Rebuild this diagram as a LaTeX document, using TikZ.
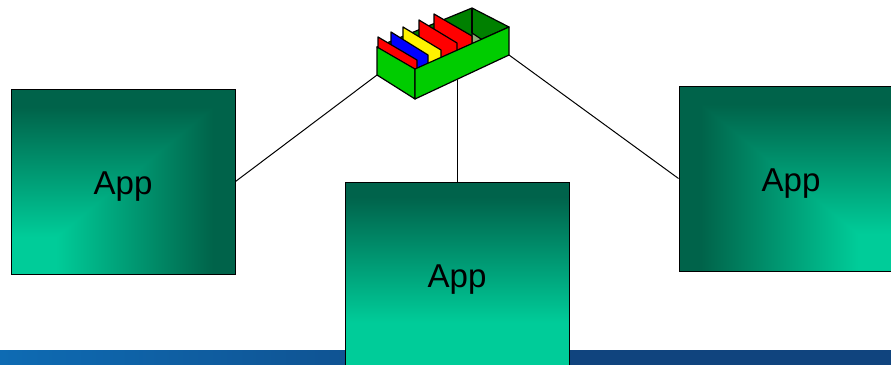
\documentclass[tikz,border=0pt]{standalone}
\usepackage{fontspec}
\setmainfont{Liberation Sans}
\definecolor{appDark}{HTML}{00634B}
\definecolor{appBright}{HTML}{00CC99}
\definecolor{bandLeft}{HTML}{0E6BB3}
\definecolor{bandRight}{HTML}{10447E}
\definecolor{binGreen}{HTML}{00CC00}
\definecolor{binDark}{HTML}{008000}
\definecolor{binFloor}{HTML}{8FAF77}
\pgfdeclarefunctionalshading{appCornerLeft}{\pgfpointorigin}{\pgfpoint{100bp}{100bp}}{}{
  25 sub 50 div exch 25 sub 50 div
  2 copy lt {exch} if pop
  .2 sub .7 div dup 0 lt {pop 0} if dup 1 gt {pop 1} if
  dup .41 mul .8 exch sub exch .31 mul .6 exch sub 0 3 1 roll
}
\pgfdeclarefunctionalshading{appCornerRight}{\pgfpointorigin}{\pgfpoint{100bp}{100bp}}{}{
  25 sub 50 div exch 75 exch sub 50 div
  2 copy lt {exch} if pop
  .2 sub .7 div dup 0 lt {pop 0} if dup 1 gt {pop 1} if
  dup .41 mul .8 exch sub exch .31 mul .6 exch sub 0 3 1 roll
}
\pgfdeclareverticalshading{appDown}{100bp}{color(0bp)=(appBright);color(37bp)=(appBright);color(71bp)=(appDark);color(100bp)=(appDark)}
\pgfdeclarehorizontalshading{bandFill}{100bp}{color(0bp)=(bandLeft);color(25bp)=(bandLeft);color(57bp)=(bandRight);color(100bp)=(bandRight)}

\begin{document}
\begin{tikzpicture}[x=0.75pt, y=-0.75pt]
        \tikzstyle{appBox} = [rectangle,draw=black,line width=0.75pt,inner sep=0pt,
            minimum width=168pt,minimum height=138.75pt,text height=25pt,
            font=\fontsize{24.8}{28}\selectfont]
        \tikzstyle{blackEdge} = [draw=black, line width=0.75pt]
        \tikzstyle{binFace} = [draw=black, line width=0.9pt, line join=round]
        \useasboundingbox (0,0) rectangle (891,364);
        \shade[shading=bandFill] (0,350) rectangle (891,364);
        \node[appBox,shading=appCornerLeft] (appLeft) at (123,181.5) {App};
        \node[appBox,shading=appDown] (appMid) at (457,274.5) {App};
        \node[appBox,shading=appCornerRight] (appRight) at (791,178.5) {App};
        \coordinate (binLeft) at (377,75);
        \coordinate (binFront) at (457,80);
        \coordinate (binRight) at (509,55);
        \path[blackEdge] (appLeft.east) edge (binLeft);
        \path[blackEdge] (appMid.north) edge (binFront);
        \path[blackEdge] (appRight.west) edge (binRight);
        % back of the bin
        \draw[binFace,fill=binDark] (377,47) -- (472,8) -- (509,27) -- (415,69) -- cycle;
        \draw[binFace,fill=binFloor] (472,33) -- (484,41) -- (472,46) -- cycle;
        \draw[binFace] (472,8) -- (472,33);
        % dividers
        \draw[binFace,fill=red] (434,14) -- (472,36) -- (472,64) -- (434,42) -- cycle;
        \draw[binFace,fill=red] (419,20) -- (457,43) -- (457,71) -- (419,48) -- cycle;
        \draw[binFace,fill=yellow] (403,27) -- (441,50) -- (441,78) -- (403,55) -- cycle;
        \draw[binFace,fill=blue] (391,32) -- (428,55) -- (428,83) -- (391,60) -- cycle;
        \draw[binFace,fill=red] (378,37) -- (417,60) -- (417,88) -- (378,65) -- cycle;
        % front of the bin
        \draw[binFace,fill=binGreen] (377,47) -- (415,69) -- (415,99) -- (377,75) -- cycle;
        \draw[binFace,fill=binGreen] (415,69) -- (509,27) -- (509,55) -- (415,99) -- cycle;
    \end{tikzpicture}
\end{document}
